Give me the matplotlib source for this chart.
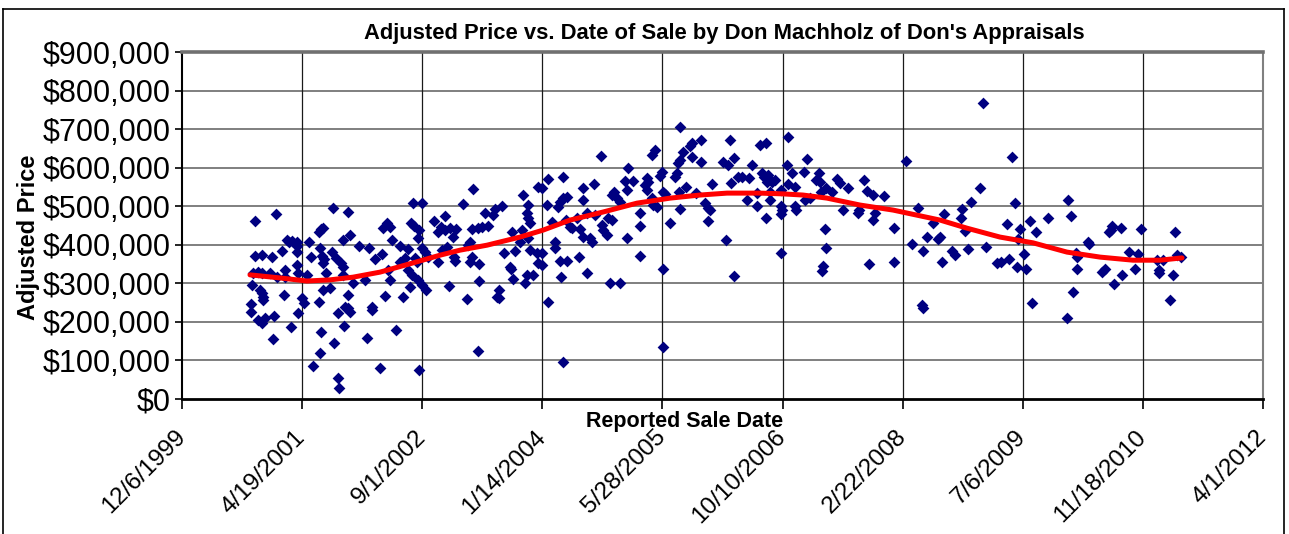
import matplotlib
matplotlib.use('Agg')
import matplotlib.pyplot as plt
from matplotlib.lines import Line2D

plt.rcParams['font.family'] = ['Liberation Sans', 'DejaVu Sans']

# ---------------- data (Excel date serials, price in $ thousands) ----------------
sale_date = [
    36791, 36787, 36787, 36804, 36804, 36833, 36796, 36816, 36833, 36866, 36895, 36929,
    36825, 36833, 36837, 36837, 36816, 36833, 36846, 36875, 36891, 36883, 36879, 36925,
    36929, 36916, 36954, 36937, 36945, 36958, 36979, 36979, 36979, 36979, 36983, 36983,
    37000, 37008, 37020, 37029, 37037, 37045, 37070, 37070, 37079, 37087, 37074, 37083,
    37091, 37087, 37099, 37087, 37116, 37074, 37079, 37129, 37133, 37149, 37149, 37154,
    37124, 37141, 37162, 37170, 37170, 37170, 37179, 37191, 37199, 37191, 37199, 37212,
    37191, 37174, 37237, 37262, 37278, 37270, 37291, 37291, 37303, 37333, 37324, 37345,
    37337, 37353, 37366, 37374, 37358, 37366, 37391, 37408, 37408, 37420, 37428, 37441,
    37449, 37453, 37462, 37499, 37466, 37487, 37482, 37470, 37478, 37441, 37457, 37482,
    37499, 37516, 37487, 37499, 37512, 37524, 37549, 37566, 37566, 37578, 37595, 37603,
    37616, 37641, 37628, 37595, 37582, 37612, 37637, 37632, 37670, 37711, 37686, 37691,
    37699, 37699, 37707, 37707, 37732, 37749, 37774, 37736, 37736, 37732, 37761, 37795,
    37803, 37832, 37811, 37820, 37820, 37840, 37865, 37870, 37874, 37886, 37878, 37907,
    37915, 37920, 37936, 37940, 37940, 37949, 37940, 37928, 37936, 37961, 37949, 37978,
    37982, 37982, 37999, 37999, 37999, 38020, 38024, 38024, 38040, 38053, 38053, 38065,
    38074, 38086, 38103, 38086, 38074, 38103, 38078, 38086, 38099, 38115, 38124, 38144,
    38153, 38157, 38169, 38169, 38169, 38186, 38186, 38199, 38207, 38215, 38219, 38244,
    38248, 38253, 38269, 38273, 38290, 38282, 38323, 38290, 38298, 38311, 38323, 38344,
    38353, 38357, 38378, 38353, 38407, 38407, 38407, 38427, 38436, 38440, 38436, 38457,
    38469, 38457, 38461, 38477, 38490, 38498, 38502, 38511, 38502, 38502, 38532, 38552,
    38561, 38565, 38573, 38586, 38573, 38569, 38573, 38598, 38615, 38623, 38623, 38640,
    38661, 38661, 38677, 38690, 38698, 38690, 38706, 38752, 38773, 38765, 38781, 38786,
    38798, 38798, 38815, 38831, 38860, 38852, 38873, 38894, 38894, 38906, 38931, 38915,
    38923, 38940, 38935, 38956, 38969, 38931, 38948, 38948, 38994, 38994, 38998, 38994,
    38994, 39019, 39023, 39023, 39039, 39052, 39052, 39056, 39089, 39093, 39102, 39114,
    39139, 39152, 39156, 39160, 39181, 39206, 39177, 39181, 39169, 39164, 39227, 39239,
    39273, 39252, 39318, 39314, 39339, 39352, 39377, 39385, 39377, 39360, 39422, 39464,
    39464, 39514, 39564, 39539, 39585, 39601, 39581, 39585, 39626, 39647, 39656, 39664,
    39672, 39706, 39718, 39747, 39743, 39760, 39772, 39785, 39822, 39835, 39847, 39893,
    39909, 39934, 39943, 39955, 39968, 39976, 39980, 39989, 40005, 40014, 40030, 40039,
    40055, 40105, 40184, 40188, 40201, 40209, 40222, 40226, 40226, 40272, 40276, 40330,
    40343, 40359, 40367, 40371, 40380, 40409, 40413, 40442, 40467, 40480, 40492, 40559,
    40584, 40567, 40567, 40613, 40625, 40634, 40642, 40659,
]
price_k = [
    296, 246, 226, 462, 371, 373, 327, 329, 327, 327, 316, 316,
    283, 275, 264, 257, 205, 197, 210, 368, 480, 215, 156, 270,
    334, 384, 187, 412, 407, 410, 407, 397, 381, 347, 327, 223,
    262, 249, 322, 407, 368, 86, 252, 433, 441, 443, 392, 371,
    363, 353, 327, 283, 288, 119, 174, 495, 145, 223, 54, 29,
    381, 366, 353, 342, 412, 322, 239, 236, 226, 485, 425, 301,
    270, 189, 397, 309, 392, 158, 239, 231, 363, 376, 80, 267,
    443, 456, 446, 412, 334, 309, 179, 397, 355, 264, 366, 389,
    290, 456, 508, 508, 449, 438, 417, 366, 355, 334, 322, 309,
    296, 283, 75, 392, 381, 368, 462, 433, 355, 446, 438, 394,
    443, 441, 420, 475, 386, 293, 358, 368, 506, 545, 259, 399,
    407, 355, 368, 441, 443, 446, 449, 350, 306, 124, 482, 477,
    493, 500, 264, 283, 262, 379, 342, 337, 433, 384, 311, 407,
    438, 529, 482, 503, 469, 456, 417, 301, 322, 322, 386, 379,
    550, 353, 547, 379, 347, 503, 570, 252, 459, 407, 392, 498,
    511, 521, 524, 576, 358, 358, 316, 96, 464, 446, 443, 469,
    368, 441, 420, 516, 547, 482, 327, 417, 407, 557, 477, 630,
    451, 438, 425, 469, 464, 301, 301, 529, 537, 521, 511, 565,
    542, 599, 565, 417, 482, 449, 371, 555, 573, 563, 542, 633,
    646, 521, 503, 498, 578, 589, 537, 532, 337, 135, 456, 576,
    586, 612, 620, 640, 705, 537, 493, 550, 656, 664, 627, 534,
    672, 615, 508, 495, 490, 462, 557, 615, 607, 412, 672, 560,
    625, 319, 576, 576, 573, 516, 607, 534, 500, 659, 664, 586,
    576, 581, 563, 563, 568, 469, 537, 516, 542, 500, 490, 480,
    379, 607, 679, 557, 586, 550, 500, 490, 589, 516, 622, 521,
    568, 586, 563, 537, 547, 537, 441, 392, 345, 332, 570, 560,
    547, 490, 490, 482, 568, 539, 529, 482, 464, 350, 526, 443,
    355, 617, 495, 402, 384, 420, 244, 236, 456, 415, 420, 355,
    480, 384, 373, 493, 469, 436, 389, 511, 547, 767, 394, 353,
    355, 454, 363, 627, 508, 342, 415, 441, 376, 337, 462, 249,
    433, 469, 210, 516, 475, 277, 379, 368, 337, 407, 402, 329,
    337, 433, 438, 449, 298, 443, 322, 381, 337, 376, 441, 360,
    360, 334, 327, 257, 322, 433, 373, 368,
]

# polynomial trend line
trend_date = [36783, 36908, 37020, 37116, 37212, 37324, 37462, 37574, 37657, 37770,
              37907, 38003, 38115, 38253, 38394, 38532, 38656, 38769, 38906, 39002,
              39085, 39185, 39323, 39460, 39656, 39768, 39905, 40043, 40184, 40322,
              40459, 40571, 40663]
trend_price_k = [322, 314, 306, 309, 316, 329, 353, 373, 386, 399,
                 420, 438, 464, 485, 508, 521, 529, 534, 534, 532,
                 529, 521, 503, 490, 464, 443, 420, 405, 381, 368,
                 360, 360, 366]

x_tick_values = [36500, 37000, 37500, 38000, 38500, 39000, 39500, 40000, 40500, 41000]
x_tick_labels = ['12/6/1999', '4/19/2001', '9/1/2002', '1/14/2004', '5/28/2005',
                 '10/10/2006', '2/22/2008', '7/6/2009', '11/18/2010', '4/1/2012']
y_tick_values = [0, 100000, 200000, 300000, 400000, 500000, 600000, 700000, 800000, 900000]
y_tick_labels = ['$0', '$100,000', '$200,000', '$300,000', '$400,000', '$500,000',
                 '$600,000', '$700,000', '$800,000', '$900,000']

title = "Adjusted Price vs. Date of Sale by Don Machholz of Don's Appraisals"
x_label = 'Reported Sale Date'
y_label = 'Adjusted Price'

# ---------------- figure ----------------
W, H = 1289, 534
fig = plt.figure(figsize=(W / 100, H / 100), dpi=100)
fig.patch.set_facecolor('white')

L, R, T, B = 182, 1263, 52, 399
ax = fig.add_axes([L / W, 1 - B / H, (R - L) / W, (B - T) / H])
ax.set_xlim(x_tick_values[0], x_tick_values[-1])
ax.set_ylim(y_tick_values[0], y_tick_values[-1])

for yv in y_tick_values[1:-1]:
    ax.axhline(yv, color='#7f7f7f', lw=1.4, zorder=0)
for xv in x_tick_values[1:-1]:
    ax.axvline(xv, color='#1a1a1a', lw=0.9, zorder=0)

prices = [p * 1000 for p in price_k]
ax.scatter(sale_date, prices, marker='D', s=36, color='#000080', linewidths=0, zorder=3)
trend_prices = [p * 1000 for p in trend_price_k]
ax.plot(trend_date, trend_prices, color='#ff0000', lw=3.6, zorder=4,
        solid_capstyle='round', solid_joinstyle='round')

ax.spines['left'].set_color('black')
ax.spines['left'].set_linewidth(1.5)
ax.spines['bottom'].set_color('black')
ax.spines['bottom'].set_linewidth(2.0)
ax.spines['top'].set_color('#707070')
ax.spines['top'].set_linewidth(2.6)
ax.spines['right'].set_color('#808080')
ax.spines['right'].set_linewidth(1.5)

ax.set_xticks(x_tick_values)
ax.set_xticklabels(x_tick_labels, rotation=45, ha='right', va='center',
                   rotation_mode='anchor')
ax.set_yticks(y_tick_values)
ax.set_yticklabels(y_tick_labels)
ax.tick_params(axis='x', direction='out', length=7, width=1.2, color='black',
               labelsize=17.5, pad=18)
ax.tick_params(axis='y', direction='out', length=5, width=1.2, color='black',
               labelsize=22, pad=3)

fig.text((365 + 1083) / 2 / W, 1 - 33 / H, title, ha='center', va='center',
         fontsize=15.8, fontweight='bold')
fig.text(685 / W, 1 - 421 / H, x_label, ha='center', va='center',
         fontsize=15.5, fontweight='bold')
fig.text(28 / W, 1 - 237 / H, y_label, ha='center', va='center', rotation=90,
         fontsize=17, fontweight='bold')

# outer chart border
fx0, fx1, fy0 = 3 / W, 1284 / W, 1 - 9 / H
fig.add_artist(Line2D([fx0, fx0], [0, fy0], transform=fig.transFigure, color='black', lw=1.2))
fig.add_artist(Line2D([fx0, fx1], [fy0, fy0], transform=fig.transFigure, color='black', lw=1.2))
fig.add_artist(Line2D([fx1, fx1], [0, fy0], transform=fig.transFigure, color='black', lw=1.2))

fig.savefig('out.png', dpi=100, facecolor='white')
